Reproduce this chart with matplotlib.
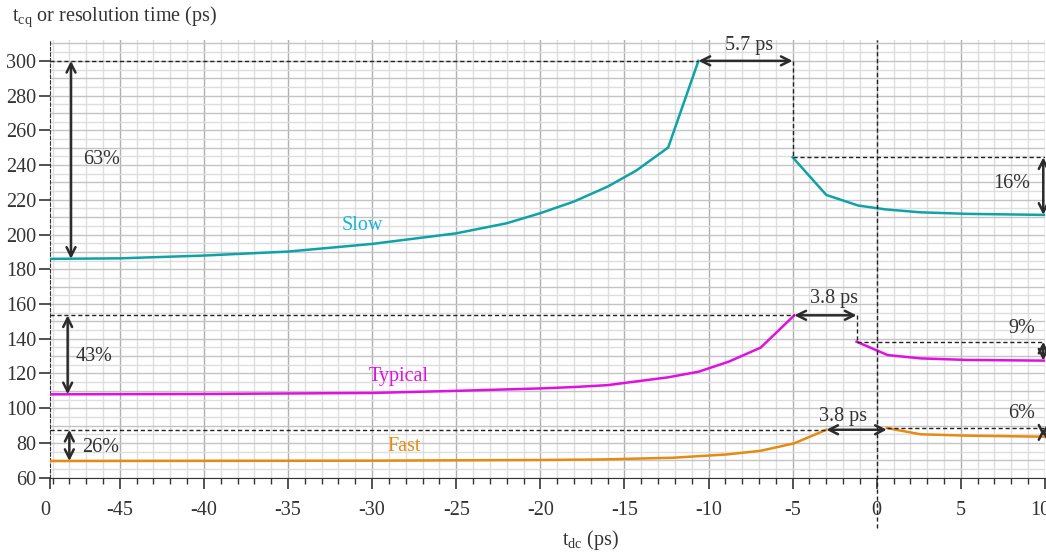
import matplotlib
matplotlib.use("Agg")
import matplotlib.pyplot as plt
import matplotlib.transforms as mtransforms
import numpy as np

plt.rcParams['font.family'] = ['Liberation Serif', 'DejaVu Serif']
plt.rcParams['mathtext.fontset'] = 'custom'
plt.rcParams['mathtext.rm'] = 'Liberation Serif'
plt.rcParams['mathtext.it'] = 'Liberation Serif'

# slow corner: before and after the gap
slow_x1 = [-49.2, -45, -40, -35, -30, -25, -22, -20, -18, -16, -14.3, -12.4, -10.6]
slow_y1 = [186, 186.3, 187.9, 190.2, 194.6, 200.7, 206.5, 212.3, 219, 227.6, 236.8, 250.1, 300]
slow_x2 = [-5, -3, -1.1, 0.5, 2.6, 5.4, 10]
slow_y2 = [244.5, 222.8, 216.7, 214.5, 212.8, 211.9, 211.3]

# typical corner
typ_x1 = [-49.2, -40, -30, -25, -20, -18, -16, -14.4, -12.4, -10.6, -8.8, -6.9, -4.9]
typ_y1 = [108, 108.2, 108.8, 110, 111.4, 112.2, 113.3, 115.3, 117.8, 121, 126.8, 134.9, 153.5]
typ_x2 = [-1.2, 0.65, 2.6, 5.4, 10]
typ_y2 = [138.3, 130.6, 128.7, 127.8, 127.4]

# fast corner
fast_x1 = [-49.2, -30, -20, -16.4, -12.1, -8.9, -6.9, -4.9, -3.0]
fast_y1 = [69.6, 69.8, 70.2, 70.5, 71.5, 73.4, 75.5, 79.8, 87.6]
fast_x2 = [0.6, 2.6, 5.4, 10]
fast_y2 = [88.6, 85, 84.2, 83.6]

xticks = [-45, -40, -35, -30, -25, -20, -15, -10, -5, 0, 5, 10]
yticks = [60, 80, 100, 120, 140, 160, 180, 200, 220, 240, 260, 280, 300]

c_slow = '#0fa3a6'
c_typ = '#e010e0'
c_fast = '#e88a10'
c_arrow = '#2b2b2b'
c_text = '#333333'

xmin, xmax = -49.15, 10
ymin, ymax = 60, 312

fig = plt.figure(figsize=(10.46, 5.52), dpi=100)
ax = fig.add_axes([0.0478, 0.1346, 0.9512, 0.7929])
ax.set_xlim(xmin, xmax)
ax.set_ylim(ymin, ymax)

# grid
for x in np.arange(-49, 10.5, 1):
    major = abs(x % 5) < 1e-9
    ax.axvline(x, color='#b0b0b0' if major else '#dedede', lw=1.0, zorder=0)
for y in np.arange(60, 312, 5):
    major = abs(y % 10) < 1e-9
    ax.axhline(y, color='#c4c4c4' if major else '#dedede', lw=1.0, zorder=0)

# curves
ax.plot(slow_x1, slow_y1, color=c_slow, lw=1.8, zorder=3)
ax.plot(slow_x2, slow_y2, color=c_slow, lw=1.8, zorder=3)
ax.plot(typ_x1, typ_y1, color=c_typ, lw=1.8, zorder=3)
ax.plot(typ_x2, typ_y2, color=c_typ, lw=1.8, zorder=3)
ax.plot(fast_x1, fast_y1, color=c_fast, lw=1.8, zorder=3)
ax.plot(fast_x2, fast_y2, color=c_fast, lw=1.8, zorder=3)

dash = dict(color='#222222', lw=1.0, ls=(0, (3, 2)), zorder=4)
# slow guides
ax.plot([xmin, slow_x1[-1]], [slow_y1[-1]] * 2, **dash)
ax.plot([slow_x2[0]] * 2, [slow_y1[-1], slow_y2[0]], **dash)
ax.plot([slow_x2[0], xmax], [slow_y2[0]] * 2, **dash)
# typical guides
ax.plot([xmin, typ_x1[-1]], [typ_y1[-1]] * 2, **dash)
ax.plot([typ_x2[0]] * 2, [typ_y1[-1], typ_y2[0]], **dash)
ax.plot([typ_x2[0], xmax], [typ_y2[0]] * 2, **dash)
# fast guides
ax.plot([xmin, fast_x1[-1]], [fast_y1[-1]] * 2, **dash)
ax.plot([fast_x2[0], xmax], [fast_y2[0]] * 2, **dash)
# x = 0 line, running below the axis
ax.plot([0, 0], [31, ymax], clip_on=False, **dash)


def arrow(x0, y0, x1, y1):
    ax.annotate('', xy=(x1, y1), xytext=(x0, y0),
                arrowprops=dict(arrowstyle='<->', color=c_arrow, lw=1.8,
                                mutation_scale=16, shrinkA=0, shrinkB=0),
                annotation_clip=False, zorder=5)


fs = 14.5
# left percentage arrows
arrow(-47.9, slow_y1[0], -47.9, slow_y1[-1])
ax.text(-47.2, 243, '63%', fontsize=fs, va='center', ha='left', color=c_text)
arrow(-48.1, typ_y1[0], -48.1, typ_y1[-1])
ax.text(-47.6, 129.5, '43%', fontsize=fs, va='center', ha='left', color=c_text)
arrow(-48.0, fast_y1[0], -48.0, fast_y1[-1])
ax.text(-47.25, 77.5, '26%', fontsize=fs, va='center', ha='left', color=c_text)

# gap arrows
arrow(slow_x1[-1], 300, slow_x2[0], 300)
ax.text(-7.6, 309, '5.7 ps', fontsize=fs, va='center', ha='center', color=c_text)
arrow(typ_x1[-1], typ_y1[-1], typ_x2[0], typ_y1[-1])
ax.text(-2.55, 163, '3.8 ps', fontsize=fs, va='center', ha='center', color=c_text)
arrow(fast_x1[-1], fast_y1[-1], fast_x2[0], fast_y1[-1])
ax.text(-2.0, 95.5, '3.8 ps', fontsize=fs, va='center', ha='center', color=c_text)

# right percentage arrows
arrow(9.9, slow_y2[0], 9.9, slow_y2[-1])
ax.text(8.0, 229.5, '16%', fontsize=fs, va='center', ha='center', color=c_text)
arrow(9.9, typ_y2[0], 9.9, typ_y2[-1])
ax.text(8.6, 146, '9%', fontsize=fs, va='center', ha='center', color=c_text)
arrow(9.9, fast_y2[0], 9.9, fast_y2[-1])
ax.text(8.6, 97, '6%', fontsize=fs, va='center', ha='center', color=c_text)

# curve names
ax.text(-30.6, 205, 'Slow', fontsize=fs, color='#1ab4dc', ha='center', va='center')
ax.text(-28.4, 118.5, 'Typical', fontsize=fs, color=c_typ, ha='center', va='center')
ax.text(-28.1, 78, 'Fast', fontsize=fs, color=c_fast, ha='center', va='center')

# spines and ticks
for s in ['top', 'right']:
    ax.spines[s].set_visible(False)
ax.spines['left'].set_linestyle((0, (3, 2)))
ax.spines['left'].set_color('#333333')
ax.spines['bottom'].set_color('#333333')

ax.set_xticks([xmin] + xticks)
ax.set_xticklabels(['0'] + [str(t) for t in xticks])
ax.set_xticks(np.arange(-49, 10.5, 1), minor=True)
ax.set_yticks(yticks)
ax.tick_params(axis='x', which='major', length=8, width=1.2, pad=9,
               labelsize=fs, colors=c_text)
ax.tick_params(axis='x', which='minor', length=4, width=1.0, colors=c_text)
ax.tick_params(axis='y', which='major', length=8, width=1.2, pad=2,
               labelsize=fs, colors=c_text)

# nudge the edge labels a little to the left, like the reference
labels = ax.get_xticklabels()
for lab, dx in [(labels[0], -5), (labels[-1], -5)]:
    off = mtransforms.ScaledTranslation(dx / 100, 0, fig.dpi_scale_trans)
    lab.set_transform(lab.get_transform() + off)

fig.text(0.011, 1 - 17 / 552, r'$\mathregular{t_{cq}}$ or resolution time (ps)',
         fontsize=fs, va='center', ha='left', color=c_text)
fig.text(590 / 1046, 1 - 540 / 552, r'$\mathregular{t_{dc}}$ (ps)',
         fontsize=fs, va='center', ha='center', color=c_text)

fig.savefig('out.png', dpi=100)
